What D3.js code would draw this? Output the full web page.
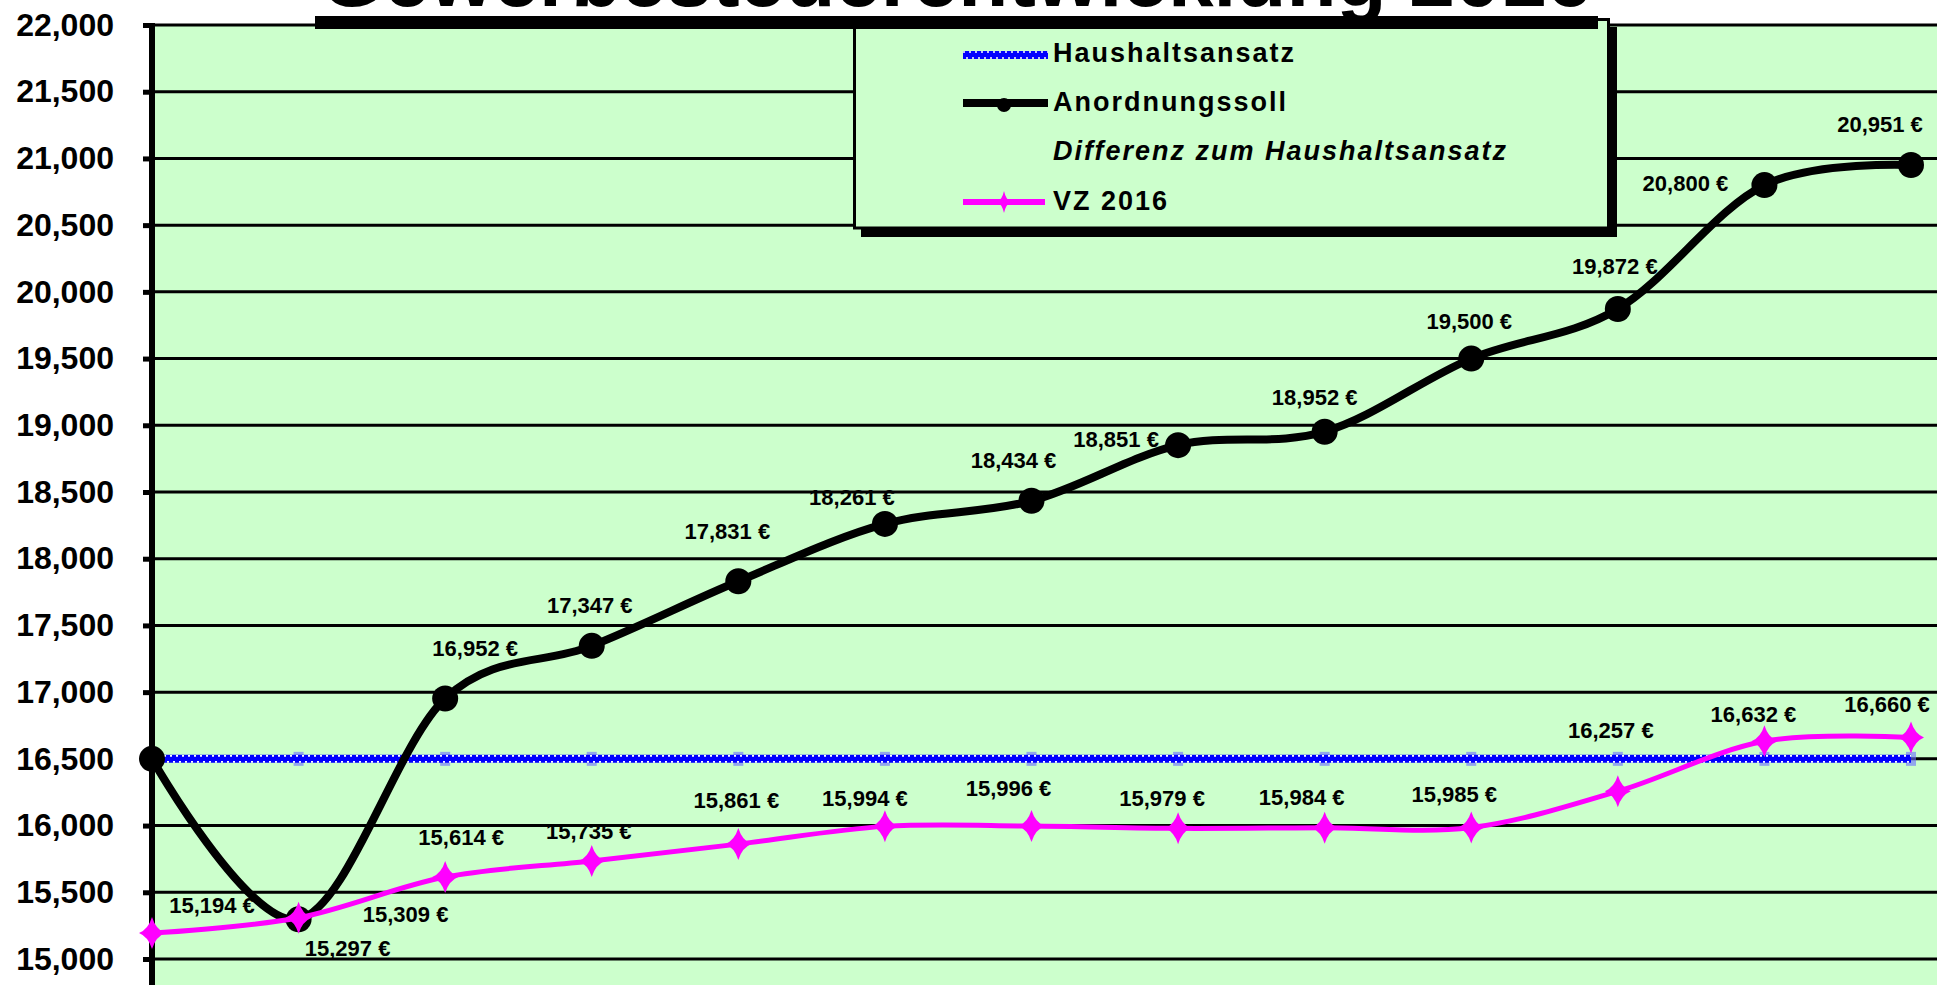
<!DOCTYPE html>
<html>
<head>
<meta charset="utf-8">
<script src="https://cdn.jsdelivr.net/npm/d3@7/dist/d3.min.js"></script>
<style>
  body { margin: 0; background: #fff; }
  svg { display: block; font-family: "Liberation Sans", Arial, sans-serif; }
</style>
</head>
<body>
<div id="chart"></div>
<script>
// Gewerbesteuerentwicklung 2016 - chart data

const title = "Gewerbesteuerentwicklung 2016";
const categories = ["Ansatz", "Jan", "Feb", "Mär", "Apr", "Mai", "Jun", "Jul", "Aug", "Sep", "Okt", "Nov", "Dez"];
const haushaltsansatz = [16500, 16500, 16500, 16500, 16500, 16500, 16500, 16500, 16500, 16500, 16500, 16500, 16500];
const anordnungssoll = [16500, 15297, 16952, 17347, 17831, 18261, 18434, 18851, 18952, 19500, 19872, 20800, 20951];
const vz2016 = [15194, 15309, 15614, 15735, 15861, 15994, 15996, 15979, 15984, 15985, 16257, 16632, 16660];
const yTicks = [15000, 15500, 16000, 16500, 17000, 17500, 18000, 18500, 19000, 19500, 20000, 20500, 21000, 21500, 22000];
const legendLabels = ["Haushaltsansatz", "Anordnungssoll", "Differenz zum Haushaltsansatz", "VZ 2016"];

// data labels were dragged around by hand in the original, keep the nudges (px)
const sollLabelShift = [null, [49, 29], [30, -50], [-2, -40], [-11, -50], [-33, -26], [-18, -40],
    [-62, -6], [-10, -34], [-2, -37], [-3, -42], [-79, -2], [-31, -40]];
const vzLabelShift = [[60, -28], [107, -3], [16, -40], [-3, -29], [-2, -44], [-20, -28], [-23, -38],
    [-16, -30], [-23, -30], [-17, -33], [-7, -61], [-11, -27], [-24, -33]];

const W = 1937, H = 985;
const plot = { left: 152, top: 25, right: W + 20, bottom: H + 40 };
const GREEN = "#CCFFCC";

const svg = d3.select("#chart").append("svg")
    .attr("width", W)
    .attr("height", H);

svg.append("rect").attr("width", W).attr("height", H).attr("fill", "#fff");

const x = d3.scalePoint().domain(categories).range([152, 1911]);
const y = d3.scaleLinear().domain([15000, 22000]).range([959, 25]);

// plot area
svg.append("rect")
    .attr("x", plot.left)
    .attr("y", plot.top)
    .attr("width", plot.right - plot.left)
    .attr("height", plot.bottom - plot.top)
    .attr("fill", GREEN);

// gridlines
svg.append("g")
    .selectAll("line")
    .data(yTicks)
    .join("line")
    .attr("x1", plot.left)
    .attr("x2", plot.right)
    .attr("y1", d => y(d))
    .attr("y2", d => y(d))
    .attr("stroke", "#000")
    .attr("stroke-width", 3);

// y axis
const yAxis = svg.append("g")
    .attr("transform", `translate(${plot.left},0)`)
    .call(d3.axisLeft(y).tickValues(yTicks).tickFormat(d3.format(",")).tickSize(9).tickPadding(29).tickSizeOuter(0));
yAxis.select(".domain").remove();
yAxis.selectAll(".tick line").attr("stroke", "#000").attr("stroke-width", 5);
yAxis.selectAll(".tick text")
    .attr("fill", "#000")
    .style("font-size", "32px")
    .style("font-weight", "bold")
    .style("font-family", "'Liberation Sans', Arial, sans-serif");

svg.append("line")
    .attr("x1", plot.left).attr("x2", plot.left)
    .attr("y1", plot.top - 2).attr("y2", plot.bottom)
    .attr("stroke", "#000")
    .attr("stroke-width", 6);

// legend box (drawn before the series, it sits inside the plot area)
const legend = svg.append("g");
legend.append("rect")
    .attr("x", 861).attr("y", 27).attr("width", 756).attr("height", 210)
    .attr("fill", "#000");
legend.append("rect")
    .attr("x", 854.5).attr("y", 19.5).attr("width", 754).attr("height", 208.5)
    .attr("fill", GREEN)
    .attr("stroke", "#000")
    .attr("stroke-width", 3);

function blueDotted(g, pathD) {
    g.append("path").attr("d", pathD).attr("fill", "none")
        .attr("stroke", "#0000FF").attr("stroke-width", 8);
    g.append("path").attr("d", pathD).attr("fill", "none")
        .attr("transform", "translate(0,-3)")
        .attr("stroke", "#fff").attr("stroke-width", 1.6).attr("stroke-dasharray", "2 4");
    g.append("path").attr("d", pathD).attr("fill", "none")
        .attr("transform", "translate(0,3)")
        .attr("stroke", "#fff").attr("stroke-width", 1.6).attr("stroke-dasharray", "2 4")
        .attr("stroke-dashoffset", 3);
}

// 4-point star marker used by the VZ series
function starPath(w, h) {
    const a = w / 2, b = h / 2, c = w / 7;
    return `M0,${-b} Q${c},${-c} ${a},0 Q${c},${c} 0,${b} Q${-c},${c} ${-a},0 Q${-c},${-c} 0,${-b}Z`;
}

const legendRowY = [55, 103, 152, 202];
const legendTextY = [62, 111, 160, 210];
const sampleX = [963, 1048];

blueDotted(legend, `M${sampleX[0]},${legendRowY[0]}H${sampleX[1]}`);

legend.append("line")
    .attr("x1", sampleX[0]).attr("x2", sampleX[1])
    .attr("y1", legendRowY[1]).attr("y2", legendRowY[1])
    .attr("stroke", "#000").attr("stroke-width", 8);
legend.append("circle")
    .attr("cx", 1004).attr("cy", legendRowY[1] + 2).attr("r", 7).attr("fill", "#000");

legend.append("line")
    .attr("x1", sampleX[0]).attr("x2", sampleX[1] - 3)
    .attr("y1", legendRowY[3]).attr("y2", legendRowY[3])
    .attr("stroke", "#FF00FF").attr("stroke-width", 6);
legend.append("path")
    .attr("d", starPath(14, 22))
    .attr("transform", `translate(1004,${legendRowY[3]})`)
    .attr("fill", "#FF00FF");

legend.selectAll("text.lg")
    .data(legendLabels)
    .join("text")
    .attr("class", "lg")
    .attr("x", 1053)
    .attr("y", (d, i) => legendTextY[i])
    .style("font-size", "27px")
    .style("font-weight", "bold")
    .style("letter-spacing", "2px")
    .style("font-style", (d, i) => i === 2 ? "italic" : "normal")
    .text(d => d);

// series
const line = (vals, curve) => d3.line()
    .x((d, i) => x(categories[i]))
    .y(d => y(d))
    .curve(curve)(vals);

const blueG = svg.append("g");
blueG.selectAll("rect")
    .data(haushaltsansatz)
    .join("rect")
    .attr("x", (d, i) => x(categories[i]) - 5)
    .attr("y", d => y(d) - 7)
    .attr("width", 10)
    .attr("height", 14)
    .attr("fill", "#6a6aff")
    .attr("opacity", 0.6);
blueDotted(blueG, line(haushaltsansatz, d3.curveLinear));

const sollG = svg.append("g");
sollG.append("path")
    .attr("d", line(anordnungssoll, d3.curveCardinal))
    .attr("fill", "none")
    .attr("stroke", "#000")
    .attr("stroke-width", 8)
    .attr("stroke-linejoin", "round");
sollG.selectAll("circle")
    .data(anordnungssoll)
    .join("circle")
    .attr("cx", (d, i) => x(categories[i]))
    .attr("cy", d => y(d))
    .attr("r", 13)
    .attr("fill", "#000");

const vzG = svg.append("g");
vzG.append("path")
    .attr("d", line(vz2016, d3.curveCardinal))
    .attr("fill", "none")
    .attr("stroke", "#FF00FF")
    .attr("stroke-width", 5);
vzG.selectAll("path.mk")
    .data(vz2016)
    .join("path")
    .attr("class", "mk")
    .attr("d", starPath(26, 32))
    .attr("transform", (d, i) => `translate(${x(categories[i])},${y(d)})`)
    .attr("fill", "#FF00FF");

// data labels
const euro = d => d3.format(",")(d) + " €";

function addLabels(vals, shifts) {
    svg.append("g")
        .selectAll("text")
        .data(vals.map((v, i) => ({ v, i, s: shifts[i] })).filter(d => d.s))
        .join("text")
        .attr("x", d => x(categories[d.i]) + d.s[0])
        .attr("y", d => y(d.v) + d.s[1])
        .attr("text-anchor", "middle")
        .attr("dominant-baseline", "central")
        .style("font-size", "22px")
        .style("font-weight", "bold")
        .text(d => euro(d.v));
}
addLabels(anordnungssoll, sollLabelShift);
addLabels(vz2016, vzLabelShift);

// title (mostly cut off at the top) with its heavy underline
svg.append("text")
    .attr("x", 956)
    .attr("y", 6)
    .attr("text-anchor", "middle")
    .style("font-size", "82px")
    .style("font-weight", "bold")
    .text(title);
svg.append("rect")
    .attr("x", 315).attr("y", 16).attr("width", 1283).attr("height", 13)
    .attr("fill", "#000");
</script>
</body>
</html>
